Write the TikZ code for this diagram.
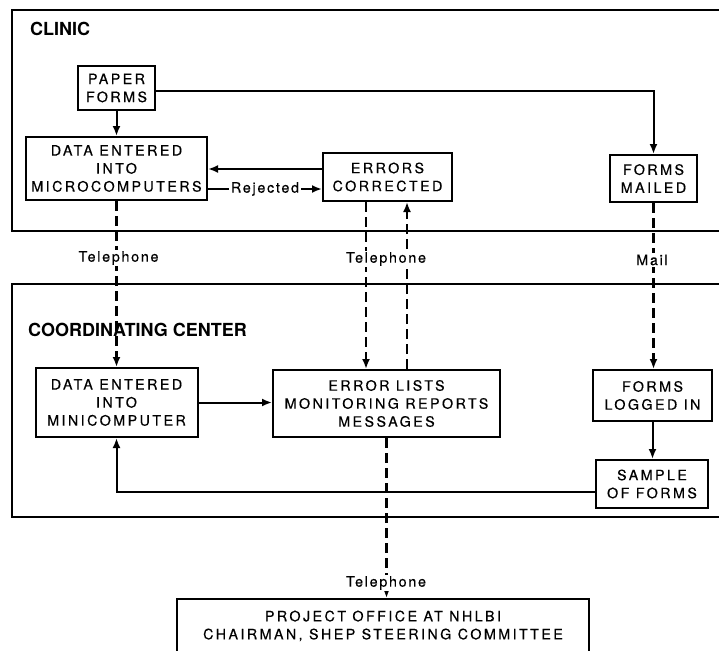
\documentclass[tikz,border=0pt]{standalone}
\usepackage{fontspec}
\setmainfont{TeX Gyre Heros}
\newfontfamily\boxfont{TeX Gyre Heros}[LetterSpace=17,FakeBold=0.4]
\newfontfamily\lblfont{TeX Gyre Heros}[LetterSpace=12,FakeBold=0.4]
\usetikzlibrary{arrows.meta}
\begin{document}
\begin{tikzpicture}[x=1pt,y=-1pt,
  every node/.style={inner sep=0pt},
  box/.style={draw, line width=2pt, align=center,
    font=\boxfont\fontsize{14.3}{18}\selectfont},
  frame/.style={line width=1.7pt},
  flow/.style={line width=2pt, -{Latex[length=10pt,width=8pt]}},
  post/.style={flow, line width=2.8pt, dash pattern=on 10pt off 5pt},
  lbl/.style={font=\lblfont\fontsize{14.3}{16}\selectfont, fill=white, inner sep=1.5pt},
  title/.style={font=\bfseries\fontsize{18}{20}\selectfont, anchor=west}]
\useasboundingbox (0,0) rectangle (719,650);

% the two site frames (open on the right)
\draw[frame] (725,10) -- (12,10) -- (12,231) -- (725,231);
\draw[frame] (725,284) -- (12,284) -- (12,517) -- (725,517);

% clinic
\node[box, minimum width=77pt, minimum height=44pt] (paper) at (116.5,88) {PAPER\\FORMS};
\node[box, minimum width=181pt, minimum height=63pt] (data) at (116.5,168.5) {DATA ENTERED\\INTO\\MICROCOMPUTERS};
\node[box, minimum width=129pt, minimum height=48pt] (errors) at (387.5,177) {ERRORS\\CORRECTED};
\node[box, minimum width=87pt, minimum height=47pt] (mailed) at (653.5,178.5) {FORMS\\MAILED};

% coordinating center
\node[box, minimum width=162pt, minimum height=69pt] (mini) at (116.5,402.5) {DATA ENTERED\\INTO\\MINICOMPUTER};
\node[box, minimum width=227pt, minimum height=67pt] (errlist) at (386.5,403.5) {ERROR LISTS\\MONITORING REPORTS\\MESSAGES};
\node[box, minimum width=119pt, minimum height=51pt] (logged) at (652.5,395.5) {FORMS\\LOGGED IN};
\node[box, minimum width=112pt, minimum height=48pt] (sample) at (652,484) {SAMPLE\\OF FORMS};

% project office
\node[box, minimum width=412pt, minimum height=54pt] (project) at (383,626) {PROJECT OFFICE AT NHLBI\\CHAIRMAN, SHEP STEERING COMMITTEE};

% solid connectors
\draw[flow] (paper) -- (data);
\draw[flow] (paper.east |- 0,91) -| (mailed.north);
\draw[flow] (errors.west |- 0,169) -- (data.east |- 0,169);
\draw[flow] (data.east |- 0,189) -- node[lbl, pos=0.5] (rej) {Rejected} (errors.west |- 0,189);
\draw[flow] (mini.east) -- (mini.east -| errlist.west);
\draw[flow] (logged.south) -- (logged.south |- sample.north);
\draw[flow] (sample.west |- 0,492) -| (mini.south);

% dashed transmission links
\draw[post] (data.south) -- (data.south |- mini.north);
\draw[post] (errors.south -| 366,0) -- (errlist.north -| 366,0);
\draw[post] (errlist.north -| 407,0) -- (errors.south -| 407,0);
\draw[post] (mailed.south) -- (mailed.south |- logged.north);
\draw[post] (errlist.south) -- (errlist.south |- project.north);

% link labels
\node[lbl] (tel1) at (118.5,258) {Telephone};
\node[lbl] (tel2) at (386,259) {Telephone};
\node[lbl] (mail) at (652,260) {Mail};
\node[lbl] (tel3) at (386,583) {Telephone};

% site titles
\node[title] (clinic) at (30,29) {CLINIC};
\node[title] (cc) at (28,330) {COORDINATING CENTER};
\end{tikzpicture}
\end{document}
